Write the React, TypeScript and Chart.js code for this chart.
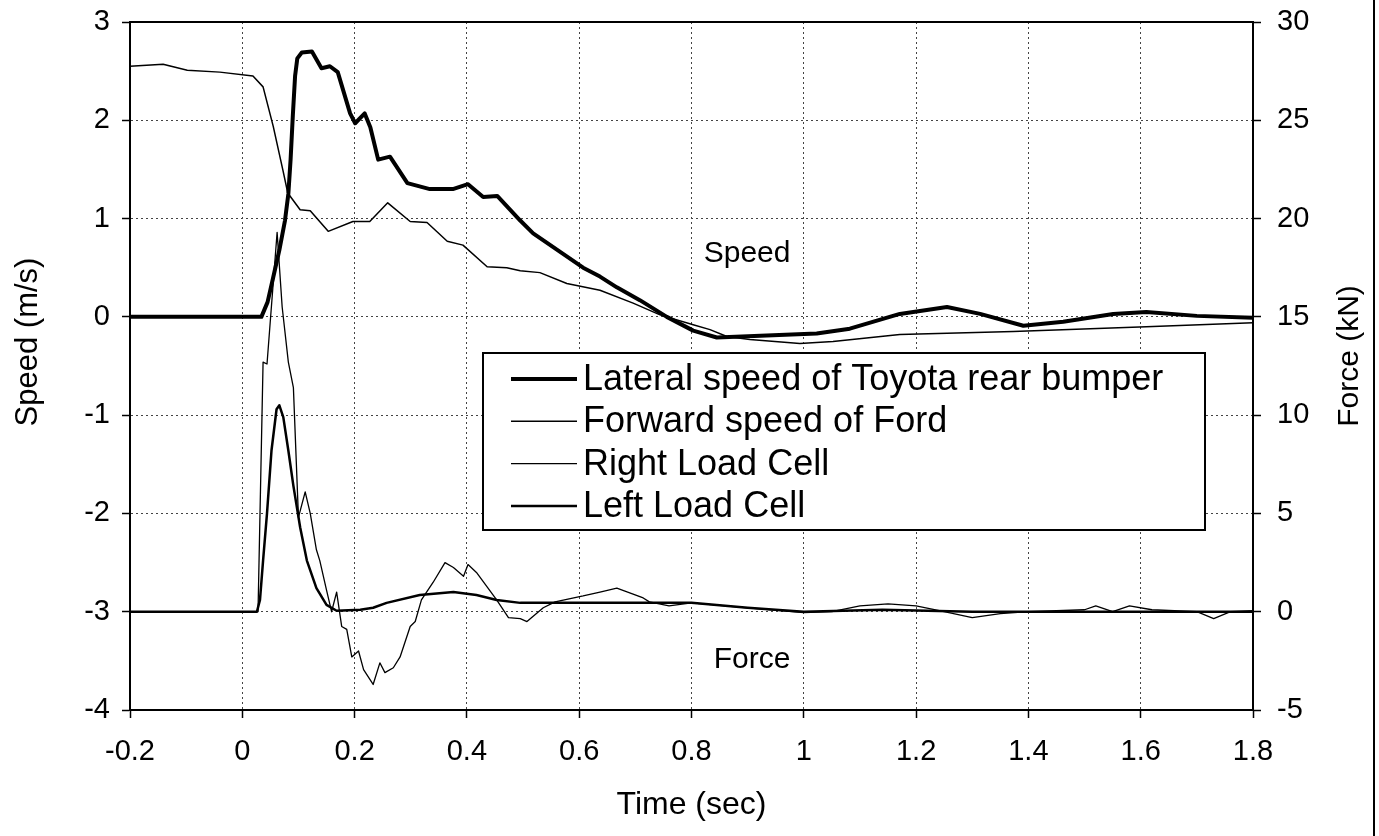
import React, { useEffect, useRef } from 'react';
import { Chart, registerables } from 'chart.js';

Chart.register(...registerables);

const FONT = '"Liberation Sans", Arial, Helvetica, sans-serif';

// Axis ranges / ticks
const timeRange = [-0.2, 1.8];
const timeStep = 0.2;
const speedRange = [-4, 3];
const speedStep = 1;
const forceRange = [-5, 30];
const forceStep = 5;

// Lateral speed of Toyota rear bumper (m/s)
const toyotaT = [-0.2, 0.034, 0.045, 0.055, 0.066, 0.076, 0.082, 0.086, 0.09, 0.094, 0.098, 0.106, 0.124, 0.141, 0.156, 0.17, 0.192, 0.201, 0.218, 0.228, 0.242, 0.263, 0.294, 0.334, 0.375, 0.402, 0.429, 0.454, 0.495, 0.518, 0.607, 0.637, 0.667, 0.708, 0.756, 0.803, 0.845, 0.934, 1.023, 1.082, 1.171, 1.255, 1.314, 1.391, 1.462, 1.551, 1.61, 1.7, 1.8];
const toyotaV = [0, 0, 0.15, 0.4, 0.68, 0.98, 1.25, 1.6, 2.05, 2.45, 2.63, 2.69, 2.7, 2.53, 2.55, 2.49, 2.07, 1.97, 2.07, 1.93, 1.6, 1.63, 1.36, 1.3, 1.3, 1.35, 1.22, 1.23, 0.98, 0.85, 0.5, 0.41, 0.3, 0.17, 0.0, -0.14, -0.21, -0.19, -0.17, -0.12, 0.03, 0.1, 0.03, -0.09, -0.05, 0.03, 0.05, 0.01, -0.01];

// Forward speed of Ford (m/s)
const fordT = [-0.2, -0.141, -0.098, -0.04, 0.019, 0.037, 0.055, 0.072, 0.081, 0.103, 0.121, 0.153, 0.197, 0.227, 0.259, 0.299, 0.329, 0.365, 0.393, 0.436, 0.471, 0.495, 0.53, 0.578, 0.637, 0.696, 0.744, 0.803, 0.833, 0.863, 0.904, 0.993, 1.052, 1.171, 1.373, 1.61, 1.8];
const fordV = [2.55, 2.57, 2.51, 2.49, 2.45, 2.34, 1.94, 1.5, 1.26, 1.09, 1.08, 0.87, 0.97, 0.97, 1.16, 0.97, 0.96, 0.77, 0.73, 0.51, 0.5, 0.47, 0.45, 0.34, 0.27, 0.14, 0.02, -0.08, -0.13, -0.2, -0.23, -0.27, -0.25, -0.18, -0.15, -0.1, -0.06];

// Right load cell (kN)
const rightT = [-0.2, 0.028, 0.037, 0.044, 0.062, 0.071, 0.082, 0.091, 0.1, 0.112, 0.121, 0.132, 0.138, 0.15, 0.159, 0.168, 0.177, 0.186, 0.195, 0.207, 0.216, 0.233, 0.245, 0.254, 0.269, 0.281, 0.299, 0.308, 0.319, 0.34, 0.361, 0.376, 0.394, 0.402, 0.417, 0.435, 0.453, 0.474, 0.495, 0.507, 0.536, 0.557, 0.607, 0.637, 0.667, 0.696, 0.714, 0.725, 0.76, 0.8, 0.9, 1.0, 1.05, 1.1, 1.15, 1.2, 1.25, 1.3, 1.35, 1.4, 1.5, 1.52, 1.55, 1.58, 1.62, 1.7, 1.73, 1.76, 1.8];
const rightF = [0, 0, 12.7, 12.6, 19.3, 15.5, 12.7, 11.4, 4.8, 6.1, 5.0, 3.15, 2.6, 1.1, 0, 1.0, -0.75, -0.9, -2.3, -2.0, -2.95, -3.7, -2.6, -3.1, -2.85, -2.3, -0.75, -0.5, 0.6, 1.5, 2.5, 2.25, 1.8, 2.4, 2.0, 1.3, 0.6, -0.3, -0.35, -0.5, 0.2, 0.5, 0.8, 1.0, 1.2, 0.9, 0.7, 0.5, 0.3, 0.45, 0.2, -0.05, 0.0, 0.3, 0.4, 0.3, 0.0, -0.3, -0.1, 0.0, 0.1, 0.3, 0.0, 0.3, 0.1, 0.0, -0.35, 0.0, 0.05];

// Left load cell (kN)
const leftT = [-0.2, 0.026, 0.0315, 0.037, 0.044, 0.052, 0.061, 0.066, 0.073, 0.082, 0.091, 0.103, 0.115, 0.132, 0.15, 0.168, 0.21, 0.233, 0.257, 0.316, 0.376, 0.417, 0.453, 0.495, 0.55, 0.65, 0.8, 0.9, 1.0, 1.14, 1.3, 1.8];
const leftF = [0, 0, 0.6, 2.6, 5.0, 8.2, 10.3, 10.5, 9.9, 8.2, 6.4, 4.3, 2.6, 1.2, 0.35, 0.05, 0.1, 0.2, 0.45, 0.85, 1.0, 0.85, 0.6, 0.45, 0.45, 0.45, 0.45, 0.2, 0.0, 0.1, 0.0, 0.0];

const seriesNames = ['Lateral speed of Toyota rear bumper', 'Forward speed of Ford', 'Right Load Cell', 'Left Load Cell'];
const seriesWidths = [4, 1.5, 1.3, 2.5];
const axisTitles = ['Time (sec)', 'Speed (m/s)', 'Force (kN)'];

const zip = (xs: number[], ys: number[]) => xs.map((x, i) => ({ x, y: ys[i] }));

const decorPlugin = {
  id: 'decor',
  afterDatasetsDraw(chart: any) {
    const { ctx, chartArea, scales } = chart;
    ctx.save();
    // plot frame
    ctx.strokeStyle = '#000';
    ctx.lineWidth = 2;
    ctx.strokeRect(chartArea.left, chartArea.top, chartArea.right - chartArea.left, chartArea.bottom - chartArea.top);

    // annotations
    ctx.fillStyle = '#000';
    ctx.font = `30px ${FONT}`;
    ctx.textAlign = 'center';
    ctx.textBaseline = 'middle';
    ctx.fillText('Speed', scales.x.getPixelForValue(0.899), scales.y.getPixelForValue(0.64));
    ctx.fillText('Force', scales.x.getPixelForValue(0.908), scales.y2.getPixelForValue(-2.44));

    // vertical axis titles (both read bottom-to-top)
    ctx.font = `31px ${FONT}`;
    ctx.save();
    ctx.translate(28, 342);
    ctx.rotate(-Math.PI / 2);
    ctx.fillText(axisTitles[1], 0, 0);
    ctx.restore();
    ctx.font = `30px ${FONT}`;
    ctx.save();
    ctx.translate(1350, 356);
    ctx.rotate(-Math.PI / 2);
    ctx.fillText(axisTitles[2], 0, 0);
    ctx.restore();

    // legend
    const bx = 483, by = 353, bw = 722, bh = 177;
    ctx.fillStyle = '#fff';
    ctx.fillRect(bx, by, bw, bh);
    ctx.strokeStyle = '#000';
    ctx.lineWidth = 2;
    ctx.strokeRect(bx, by, bw, bh);
    ctx.font = `36px ${FONT}`;
    ctx.textAlign = 'left';
    ctx.textBaseline = 'middle';
    ctx.fillStyle = '#000';
    seriesNames.forEach((name, i) => {
      const cy = by + 26 + i * 42.3;
      ctx.beginPath();
      ctx.lineWidth = seriesWidths[i];
      ctx.moveTo(bx + 28, cy);
      ctx.lineTo(bx + 94, cy);
      ctx.stroke();
      ctx.fillText(name, bx + 100, cy + 1);
    });

    // page edge line of the scan
    ctx.beginPath();
    ctx.lineWidth = 2;
    ctx.moveTo(1374, 0);
    ctx.lineTo(1374, 836);
    ctx.stroke();
    ctx.restore();
  },
};

export default function App() {
  const ref = useRef<HTMLCanvasElement | null>(null);

  useEffect(() => {
    if (!ref.current) return;
    const common = { pointRadius: 0, tension: 0, borderColor: '#000', borderJoinStyle: 'round' as const, fill: false };
    const fitY = (w: number) => (s: any) => { s.width = w; s.paddingTop = 0; s.paddingBottom = 0; };
    const chart = new Chart(ref.current, {
      type: 'line',
      data: {
        datasets: [
          { ...common, label: seriesNames[0], data: zip(toyotaT, toyotaV), borderWidth: seriesWidths[0], yAxisID: 'y' },
          { ...common, label: seriesNames[1], data: zip(fordT, fordV), borderWidth: seriesWidths[1], yAxisID: 'y' },
          { ...common, label: seriesNames[2], data: zip(rightT, rightF), borderWidth: seriesWidths[2], yAxisID: 'y2' },
          { ...common, label: seriesNames[3], data: zip(leftT, leftF), borderWidth: seriesWidths[3], yAxisID: 'y2' },
        ],
      },
      options: {
        responsive: false,
        animation: false,
        devicePixelRatio: 1,
        layout: { padding: { top: 22, left: 0, right: 0, bottom: 0 } },
        plugins: { legend: { display: false }, tooltip: { enabled: false } },
        scales: {
          x: {
            type: 'linear',
            min: timeRange[0],
            max: timeRange[1],
            afterFit: (s: any) => { s.height = 126; s.paddingLeft = 0; s.paddingRight = 0; },
            ticks: {
              stepSize: timeStep, color: '#000', font: { family: FONT, size: 29 }, padding: 17, maxRotation: 0, autoSkip: false,
              callback: (v: any) => String(Math.round(Number(v) * 10) / 10),
            },
            grid: { color: '#444', lineWidth: 1, tickLength: 8, tickColor: '#000', tickWidth: 1.5 },
            border: { display: true, color: '#000', width: 2, dash: [2, 3] },
            title: { display: true, text: axisTitles[0], color: '#000', font: { family: FONT, size: 32 }, padding: { top: 0, bottom: 12 } },
          },
          y: {
            type: 'linear',
            position: 'left',
            min: speedRange[0],
            max: speedRange[1],
            afterFit: fitY(130),
            ticks: { stepSize: speedStep, color: '#000', font: { family: FONT, size: 29 }, padding: 12 },
            grid: { color: '#444', lineWidth: 1, tickLength: 8, tickColor: '#000', tickWidth: 1.5 },
            border: { display: true, color: '#000', width: 2, dash: [2, 3] },
            title: { display: false },
          },
          y2: {
            type: 'linear',
            position: 'right',
            min: forceRange[0],
            max: forceRange[1],
            afterFit: fitY(126),
            ticks: { stepSize: forceStep, color: '#000', font: { family: FONT, size: 29 }, padding: 16 },
            grid: { drawOnChartArea: false, color: '#000', tickLength: 8, tickWidth: 1.5 },
            border: { display: true, color: '#000', width: 2 },
            title: { display: false },
          },
        },
      },
      plugins: [decorPlugin],
    } as any);
    return () => chart.destroy();
  }, []);

  return (
    <div style={{ position: 'absolute', left: 0, top: 0, width: 1379, height: 836, background: '#fff' }}>
      <canvas ref={ref} width={1379} height={836} style={{ display: 'block' }} />
    </div>
  );
}
